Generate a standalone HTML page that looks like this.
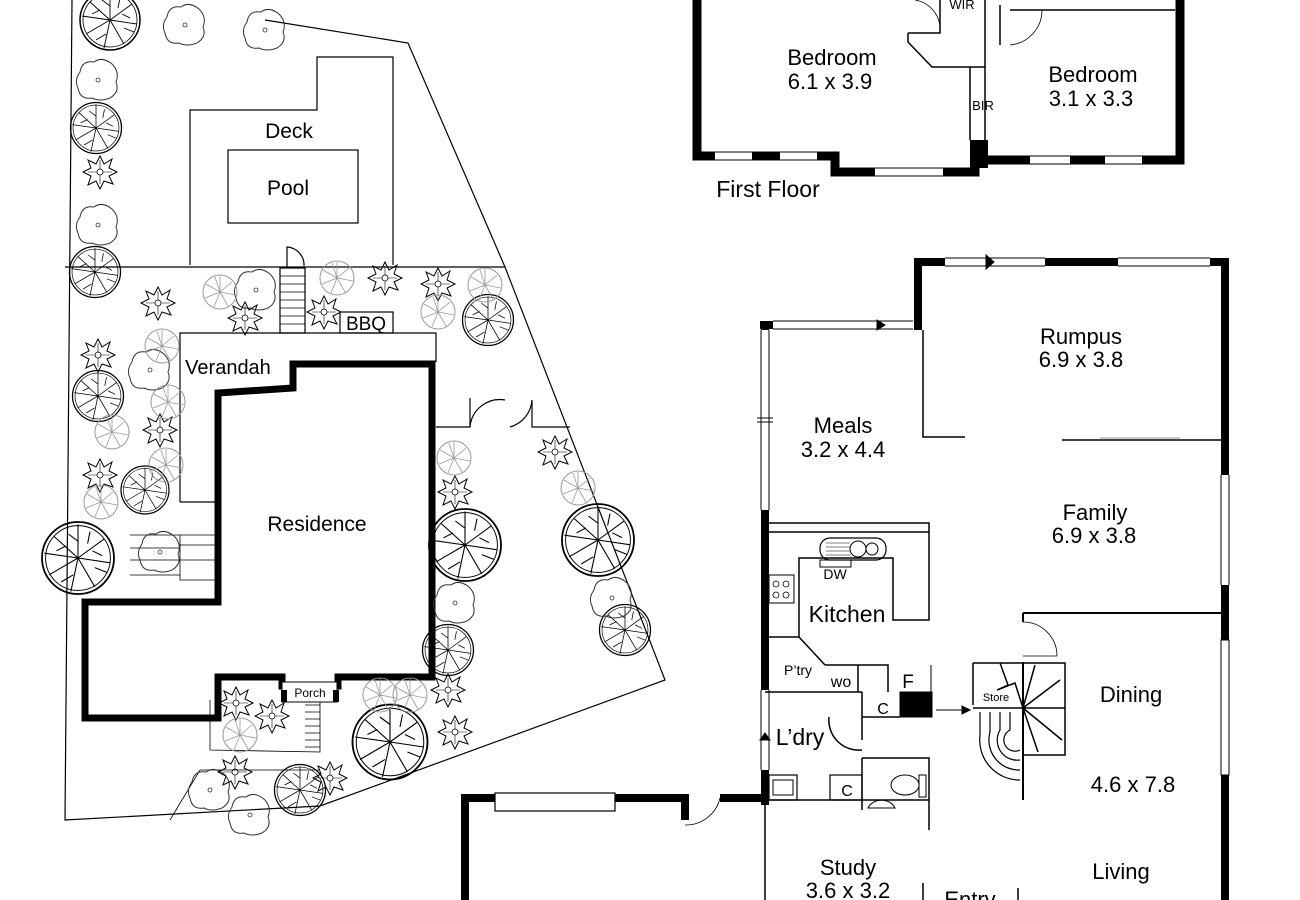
<!DOCTYPE html>
<html><head><meta charset="utf-8"><style>
html,body{margin:0;padding:0;background:#fff;}
svg{display:block;}
text{font-family:"Liberation Sans",Arial,sans-serif;fill:#000;}
</style></head><body>
<svg width="1300" height="900" viewBox="0 0 1300 900" xmlns="http://www.w3.org/2000/svg">
<defs>
<g id="tree"><circle r="30" fill="none" stroke="#000" stroke-width="1.5"/><circle r="27" fill="none" stroke="#000" stroke-width="0.8"/>
<path d="M0 0L-20 -18M0 0L0 -28M0 0L22 -16M0 0L27 4M0 0L14 24M0 0L-6 28M0 0L-24 14M0 0L-28 -4M-10 -10L-18 -6M8 -12L10 -22M14 8L24 12M-4 14L-14 20M0 -14L-8 -20M12 -6L20 -2" stroke="#000" stroke-width="0.9" fill="none"/></g>
<g id="gtree"><circle r="17" fill="none" stroke="#999" stroke-width="1"/>
<path d="M0 0L0 -16M0 0L12 -10M0 0L16 3M0 0L8 14M0 0L-6 15M0 0L-15 6M0 0L-14 -8M0 0L-5 -15" stroke="#999" stroke-width="0.8"/></g>
<g id="shrub"><path d="M-18 -8Q-16 -20 -4 -18Q4 -24 14 -16Q22 -8 18 2Q22 12 12 18Q2 22 -6 18Q-18 20 -20 8Q-24 0 -18 -8Z" fill="none" stroke="#333" stroke-width="1"/><circle r="2" fill="none" stroke="#333" stroke-width="0.8"/></g>
<g id="star"><path d="M0 -16L4 -8L12 -13L9 -4L17 0L9 4L13 12L4 9L0 17L-4 9L-12 13L-9 4L-17 0L-9 -4L-12 -12L-4 -8Z" fill="none" stroke="#000" stroke-width="1"/><circle r="3" fill="none" stroke="#000" stroke-width="0.8"/><path d="M0 -3L0 -12M3 0L12 0M0 3L0 12M-3 0L-12 0" stroke="#000" stroke-width="0.6"/></g>
</defs>

<!-- SITE -->
<g fill="none" stroke="#000" stroke-width="1.2">
<path d="M72 0 L65 820 L320 806 L665 680 L505 267 L408 43 L265 20"/>
<path d="M65 267 L505 267"/>
<path d="M190 265 L190 110 L317 110 L317 57 L393 57 L393 265"/>
<rect x="228" y="150" width="130" height="73"/>
<rect x="280" y="268" width="25" height="65"/>
<path d="M280 276H305M280 284H305M280 292H305M280 300H305M280 308H305M280 316H305M280 324H305" stroke-width="0.8"/>
<path d="M287 267V247A18 18 0 0 1 304 266"/>
<rect x="340" y="312" width="53" height="21"/>
<path d="M180 502 L180 333 L436 333 L436 362"/>
<path d="M180 502 L218 502"/>
<path d="M436 427 L470 427 L470 398 M470 427 A30 30 0 0 1 505 400 M510 427 A30 30 0 0 0 532 400 L532 427 L570 427"/>
<path d="M130 535H218M130 548H180M130 560H180M130 575H180M180 535V580H218M180 545H218M180 560H218" stroke-width="0.8"/>
<path d="M210 750 L210 700 M210 750 L320 752 L320 700 M200 770 L320 770 M170 820 L200 770" stroke-width="0.8"/>
<path d="M305 705H320M305 712H320M305 719H320M305 726H320M305 733H320M305 740H320M305 747H320" stroke-width="0.7"/>
</g>
<path d="M293 364 L432 364 L432 677 L338 677 L338 686 L282 686 L282 677 L218 677 L218 718 L85 718 L85 602 L218 602 L218 393 L293 388 Z" fill="none" stroke="#000" stroke-width="7"/>
<rect x="282" y="682" width="55" height="20" fill="#fff" stroke="#000" stroke-width="1"/>
<rect x="281" y="690" width="6" height="12" fill="#000"/><rect x="333" y="690" width="6" height="12" fill="#000"/>

<use href="#tree" x="110" y="20"/>
<use href="#tree" x="96" y="128" transform="translate(96 128) scale(0.85) translate(-96 -128)"/>
<use href="#tree" x="95" y="272" transform="translate(95 272) scale(0.85) translate(-95 -272)"/>
<use href="#tree" x="98" y="396" transform="translate(98 396) scale(0.85) translate(-98 -396)"/>
<use href="#tree" x="145" y="490" transform="translate(145 490) scale(0.8) translate(-145 -490)"/>
<use href="#tree" x="78" y="558" transform="translate(78 558) scale(1.2) translate(-78 -558)"/>
<use href="#tree" x="465" y="545" transform="translate(465 545) scale(1.2) translate(-465 -545)"/>
<use href="#tree" x="598" y="540" transform="translate(598 540) scale(1.2) translate(-598 -540)"/>
<use href="#tree" x="448" y="650" transform="translate(448 650) scale(0.85) translate(-448 -650)"/>
<use href="#tree" x="625" y="630" transform="translate(625 630) scale(0.85) translate(-625 -630)"/>
<use href="#tree" x="488" y="320" transform="translate(488 320) scale(0.85) translate(-488 -320)"/>
<use href="#tree" x="390" y="742" transform="translate(390 742) scale(1.25) translate(-390 -742)"/>
<use href="#tree" x="300" y="790" transform="translate(300 790) scale(0.85) translate(-300 -790)"/>
<use href="#shrub" x="185" y="25"/><use href="#shrub" x="265" y="30"/><use href="#shrub" x="98" y="80"/>
<use href="#shrub" x="98" y="225"/><use href="#shrub" x="256" y="290"/><use href="#shrub" x="150" y="370"/>
<use href="#shrub" x="160" y="552"/><use href="#shrub" x="455" y="603"/><use href="#shrub" x="612" y="598"/>
<use href="#shrub" x="210" y="790"/><use href="#shrub" x="250" y="815"/>
<use href="#star" x="100" y="172"/><use href="#star" x="158" y="303"/><use href="#star" x="245" y="318"/>
<use href="#star" x="324" y="312"/><use href="#star" x="385" y="278"/><use href="#star" x="438" y="284"/>
<use href="#star" x="98" y="355"/><use href="#star" x="160" y="430"/><use href="#star" x="100" y="475"/>
<use href="#star" x="455" y="492"/><use href="#star" x="555" y="452"/><use href="#star" x="448" y="690"/>
<use href="#star" x="455" y="732"/><use href="#star" x="236" y="703"/><use href="#star" x="272" y="716"/>
<use href="#star" x="235" y="772"/><use href="#star" x="330" y="778"/>
<use href="#gtree" x="162" y="346"/><use href="#gtree" x="220" y="292"/><use href="#gtree" x="337" y="278"/>
<use href="#gtree" x="485" y="285"/><use href="#gtree" x="438" y="312"/><use href="#gtree" x="112" y="432"/>
<use href="#gtree" x="168" y="402"/><use href="#gtree" x="101" y="502"/><use href="#gtree" x="166" y="465"/>
<use href="#gtree" x="454" y="458"/><use href="#gtree" x="578" y="488"/><use href="#gtree" x="240" y="735"/>
<use href="#gtree" x="380" y="695"/><use href="#gtree" x="410" y="695"/>

<text x="289" y="138" font-size="21" text-anchor="middle">Deck</text>
<text x="288" y="195" font-size="21" text-anchor="middle">Pool</text>
<text x="366" y="330" font-size="19" text-anchor="middle">BBQ</text>
<text x="228" y="374" font-size="20" text-anchor="middle">Verandah</text>
<text x="317" y="531" font-size="21" text-anchor="middle">Residence</text>
<text x="310" y="697" font-size="12" text-anchor="middle">Porch</text>

<!-- FIRST FLOOR -->
<g fill="none" stroke="#000">
<path d="M697 0 V156 H715 M752 156 H780 M817 156 H835 V172 H875 M943 172 H975 V140 M975 160 H1030 M1070 160 H1105 M1142 160 H1180 V0" stroke-width="9"/>
<rect x="970" y="140" width="18" height="28" fill="#000" stroke="none"/>
<path d="M715 152H752M715 160H752M780 152H817M780 160H817M875 168H943M875 176H943M1030 156H1070M1030 164H1070M1105 156H1142M1105 164H1142" stroke-width="1"/>
<path d="M908 33 H940 V0 M908 33 V42 L932 67 H985 V0 M970 67 V140 M985 67 V140 M1000 5 V45 M1010 10 H1175" stroke-width="1.5"/>
<path d="M940 33 A30 30 0 0 0 915 0 M1010 45 A35 35 0 0 0 1042 10" stroke-width="0.8"/>
</g>
<text x="962" y="9" font-size="13" text-anchor="middle">WIR</text>
<text x="832" y="65" font-size="22" text-anchor="middle">Bedroom</text>
<text x="830" y="89" font-size="22" text-anchor="middle">6.1 x 3.9</text>
<text x="1093" y="82" font-size="22" text-anchor="middle">Bedroom</text>
<text x="1091" y="106" font-size="22" text-anchor="middle">3.1 x 3.3</text>
<text x="983" y="110" font-size="13" text-anchor="middle">BIR</text>
<text x="768" y="197" font-size="23" text-anchor="middle">First Floor</text>

<!-- GROUND FLOOR -->
<g fill="none" stroke="#000">
<path d="M918 330 V262 H945 M1045 262 H1118 M1210 262 H1225 V475" stroke-width="8"/>
<path d="M945 258H1045M945 266H1045M1118 258H1210M1118 266H1210" stroke-width="1"/>
<path d="M986 255 L994 262 L986 269Z" fill="#000"/>
<path d="M760 325 H773 M765 325 V330" stroke-width="8"/>
<path d="M773 321H913M773 329H913M761 330V510M769 330V510M757 418H773M757 422H773" stroke-width="1"/>
<path d="M885 325 L877 320 L877 330Z" fill="#000"/>
<path d="M923 330 V437 H965 M1062 440 H1222" stroke-width="1.5"/>
<path d="M1100 438 H1180" stroke="#999" stroke-width="1"/>
<path d="M1225 585 V900 M1225 475 V472" stroke-width="8"/>
<path d="M1221 475V585M1229 475V585M1221 640V775M1229 640V775" stroke-width="1"/>
<rect x="1221" y="640" width="8" height="135" fill="#fff" stroke="#000" stroke-width="1"/>
<path d="M1023 613 H1222 M1023 613 V622 M1023 662 V800" stroke-width="2"/>
<path d="M1023 622 A34 34 0 0 1 1057 656 M1023 656 H1057" stroke-width="0.8"/>
<path d="M765 510 V690 M765 770 V805" stroke-width="8"/>
<path d="M761 690V770M769 690V770" stroke-width="1"/>
<path d="M760 740 L765 733 L770 740Z" fill="#000"/>
<path d="M765 523 H929 V620 H893 V558 H799 V637 M769 532 H929 M765 637 H799 L825 665 M765 692 H862 M825 665 H888 V692 M858 665 V692 M862 692 V717 H900 M862 717 V740 M829 717 A30 30 0 0 0 862 750 M862 758 V800 H929 V758 H862 M862 800 V810 M929 800 V830 M765 800 H862" stroke-width="1.5"/>
<rect x="900" y="692" width="32" height="25" fill="#000"/>
<path d="M931 665V692" stroke-width="1"/>
<path d="M936 710 H965" stroke-width="1"/><path d="M970 710 L962 706 L962 714Z" fill="#000"/>
<rect x="820" y="538" width="66" height="22" rx="10" stroke-width="1.2"/>
<circle cx="858" cy="549" r="8" stroke-width="1"/><circle cx="872" cy="549" r="6" stroke-width="1"/>
<path d="M826 543H850M826 547H850M826 551H850M826 555H850" stroke-width="0.6"/>
<rect x="820" y="560" width="31" height="7" stroke-width="1"/>
<rect x="769" y="575" width="25" height="28" stroke-width="1"/>
<circle cx="776" cy="584" r="3" stroke-width="0.8"/><circle cx="786" cy="584" r="3" stroke-width="0.8"/><circle cx="776" cy="595" r="3" stroke-width="0.8"/><circle cx="786" cy="595" r="3" stroke-width="0.8"/>
<rect x="769" y="775" width="28" height="25" stroke-width="1.2"/><rect x="773" y="780" width="20" height="15" stroke-width="1"/>
<rect x="830" y="775" width="32" height="25" stroke-width="1.2"/>
<ellipse cx="905" cy="785" rx="14" ry="10" stroke-width="1"/><rect x="919" y="775" width="7" height="22" stroke-width="1"/>
<path d="M868 808 A15 14 0 0 1 895 808 Z" stroke-width="1"/>
<path d="M973 663 H1065 V755 H1023 V800 M973 663 V705 M973 708 H1023 M1023 663 V755 M1023 708 L1035 665 M1023 708 L1060 680 M1023 708 L1062 740 M1023 708 L1038 752 M1023 708 H1065 M1000 663 L1008 685 L997 690 L1015 683 L1023 708" stroke-width="1.5"/>
<path d="M980 712 V735 A40 40 0 0 0 1020 780 M990 712 V732 A30 30 0 0 0 1020 770 M1000 712 V730 A20 20 0 0 0 1020 760 M1010 712 V730 A10 10 0 0 0 1020 750" stroke-width="1.2"/>
<path d="M465 900 V798 H495 M615 798 H685 V820 M720 798 H765" stroke-width="8"/>
<rect x="495" y="793" width="120" height="18" fill="#fff" stroke="#000" stroke-width="1.2"/>
<path d="M685 825 A35 35 0 0 0 720 798" stroke-width="0.8"/>
<path d="M765 805 V900 M923 883 V900 M1018 888 V900" stroke-width="1.5"/>
</g>
<text x="1081" y="344" font-size="22" text-anchor="middle">Rumpus</text>
<text x="1081" y="367" font-size="22" text-anchor="middle">6.9 x 3.8</text>
<text x="843" y="433" font-size="22" text-anchor="middle">Meals</text>
<text x="843" y="457" font-size="22" text-anchor="middle">3.2 x 4.4</text>
<text x="1095" y="520" font-size="22" text-anchor="middle">Family</text>
<text x="1094" y="543" font-size="22" text-anchor="middle">6.9 x 3.8</text>
<text x="847" y="622" font-size="23" text-anchor="middle">Kitchen</text>
<text x="835" y="579" font-size="14" text-anchor="middle">DW</text>
<text x="798" y="675" font-size="14" text-anchor="middle">P’try</text>
<text x="841" y="687" font-size="16" text-anchor="middle">wo</text>
<text x="908" y="688" font-size="19" text-anchor="middle">F</text>
<text x="883" y="714" font-size="16" text-anchor="middle">C</text>
<text x="800" y="745" font-size="23" text-anchor="middle">L’dry</text>
<text x="847" y="796" font-size="16" text-anchor="middle">C</text>
<text x="996" y="701" font-size="11" text-anchor="middle">Store</text>
<text x="1131" y="702" font-size="22" text-anchor="middle">Dining</text>
<text x="1133" y="792" font-size="22" text-anchor="middle">4.6 x 7.8</text>
<text x="1121" y="879" font-size="22" text-anchor="middle">Living</text>
<text x="848" y="875" font-size="22" text-anchor="middle">Study</text>
<text x="848" y="898" font-size="22" text-anchor="middle">3.6 x 3.2</text>
<text x="970" y="907" font-size="22" text-anchor="middle">Entry</text>
</svg>
</body></html>
